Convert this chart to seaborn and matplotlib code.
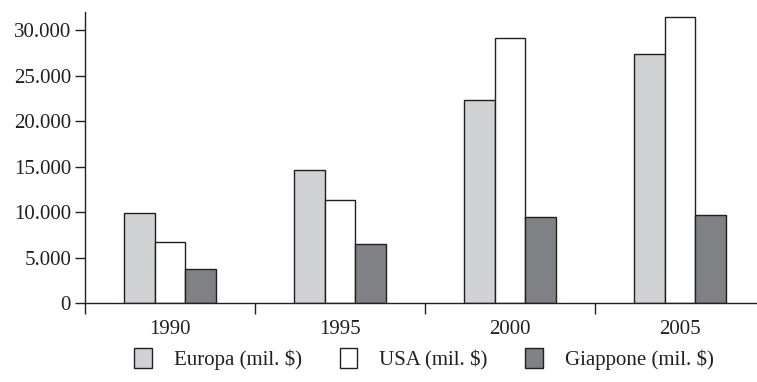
import matplotlib
matplotlib.use("Agg")
import matplotlib.pyplot as plt
from matplotlib.ticker import FixedLocator, FuncFormatter
import pandas as pd
import seaborn as sns

years = ["1990", "1995", "2000", "2005"]
series = ["Europa (mil. $)", "USA (mil. $)", "Giappone (mil. $)"]
europa = [9900, 14600, 22300, 27400]
usa = [6700, 11300, 29100, 31400]
giappone = [3700, 6500, 9500, 9700]

df = pd.DataFrame({
    "anno": years * 3,
    "serie": [series[0]] * 4 + [series[1]] * 4 + [series[2]] * 4,
    "valore": europa + usa + giappone,
})

sns.set_theme(style="white")
plt.rcParams["font.family"] = ["Liberation Serif", "DejaVu Serif"]
ink = "#231f20"
palette = {series[0]: "#d1d2d4", series[1]: "#ffffff", series[2]: "#808184"}

fig = plt.figure(figsize=(7.57, 3.82), dpi=100)
ax = fig.add_axes([0.1123, 0.2068, 0.8877, 0.7618])

sns.barplot(data=df, x="anno", y="valore", hue="serie", order=years, hue_order=series,
            palette=palette, width=0.54, gap=0, edgecolor=ink, linewidth=1.0,
            saturation=1, ax=ax)

ax.set_xlim(-0.5, -0.5 + 672 / 170)
ax.set_ylim(0, 32000)
ax.set_xlabel("")
ax.set_ylabel("")

ax.yaxis.set_major_locator(FixedLocator(range(0, 30001, 5000)))
ax.yaxis.set_major_formatter(FuncFormatter(lambda v, p: f"{int(v):,}".replace(",", ".")))

ax.xaxis.set_major_locator(FixedLocator([-0.5, 0.5, 1.5, 2.5, 3.5]))
ax.xaxis.set_major_formatter(FuncFormatter(lambda v, p: ""))
ax.xaxis.set_minor_locator(FixedLocator([0, 1, 2, 3]))
ax.xaxis.set_minor_formatter(FuncFormatter(lambda v, p: years[int(round(v))]))

ax.tick_params(axis="y", which="major", direction="out", length=7, width=1.0, color=ink,
               labelsize=15, labelcolor=ink, pad=3, left=True)
ax.tick_params(axis="x", which="major", direction="out", length=8, width=1.0, color=ink, bottom=True)
ax.tick_params(axis="x", which="minor", length=0, labelsize=15, labelcolor=ink, pad=12)

sns.despine(ax=ax, top=True, right=True)
for side in ["left", "bottom"]:
    ax.spines[side].set_color(ink)
    ax.spines[side].set_linewidth(1.0)

handles, labels = ax.get_legend_handles_labels()
ax.legend(handles, labels, loc="center", bbox_to_anchor=(0.56, 0.06),
          bbox_transform=fig.transFigure, ncol=3, frameon=False,
          fontsize=15, handlelength=0.85, handleheight=1.1,
          handletextpad=1.05, columnspacing=1.8, labelcolor=ink)

fig.savefig("out.png", dpi=100)
